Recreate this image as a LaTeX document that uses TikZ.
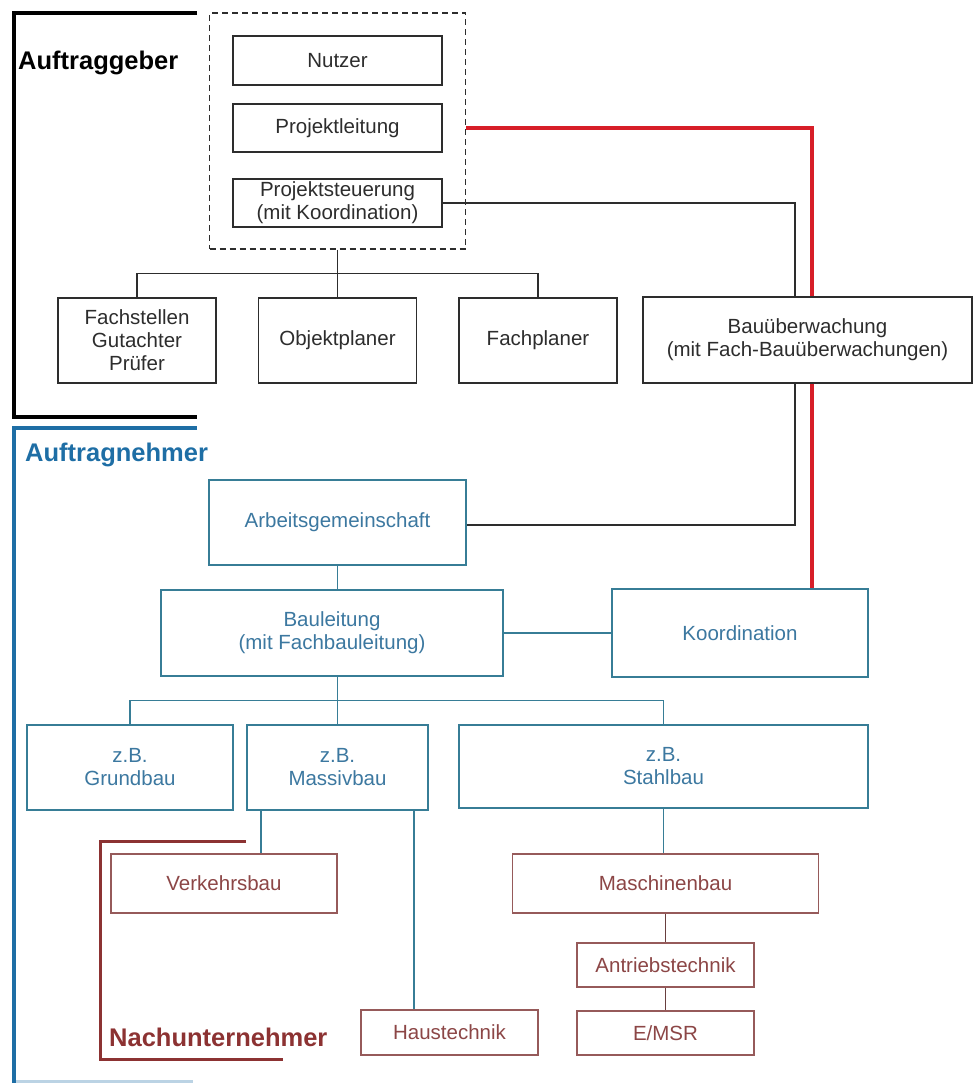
\documentclass[tikz,border=0pt]{standalone}
\usepackage{fontspec}
\setmainfont{Liberation Sans}
\usepackage{xcolor}
\usetikzlibrary{positioning,backgrounds}
\definecolor{agblack}{RGB}{45,45,45}
\definecolor{anblue}{RGB}{30,110,165}
\definecolor{anedge}{RGB}{55,125,150}
\definecolor{antext}{RGB}{60,120,160}
\definecolor{nuedge}{RGB}{150,90,90}
\definecolor{nutext}{RGB}{140,70,70}
\definecolor{nudark}{RGB}{140,50,50}
\definecolor{leadred}{RGB}{215,30,40}
\tikzset{
  agbox/.style  ={rectangle, draw=agblack, fill=white, line width=1.2pt, align=center, inner sep=0pt, text=agblack, font=\fontsize{20.5}{23}\selectfont},
  anbox/.style  ={agbox, draw=anedge, text=antext},
  nubox/.style  ={agbox, draw=nuedge, text=nutext},
  agframe/.style={rectangle, draw=agblack, dash pattern=on 6pt off 4pt, line width=1.2pt, inner sep=0pt},
  title/.style  ={inner sep=0pt, font=\fontsize{25.5}{28}\selectfont\bfseries},
  agconn/.style ={draw=agblack, line width=1.3pt},
  anconn/.style ={draw=anedge, line width=1.3pt},
  nuconn/.style ={draw=nuedge!70!black, line width=1.3pt},
  leadline/.style={draw=leadred, line width=4pt},
  bracket/.style={line width=4pt},
}

\begin{document}
\begin{tikzpicture}[x=1pt,y=-1pt]
\useasboundingbox (0,0) rectangle (973,1083);
% --- brackets ---
\draw[bracket, draw=black]  (197,13) -- (14,13) -- (14,417) -- (197,417);
\draw[bracket, draw=anblue] (197,428) -- (14,428) -- (14,1083);
\draw[bracket, draw=anblue!30] (16,1082) -- (193,1082);
\draw[bracket, draw=nudark, line width=3pt] (246,841) -- (100,841) -- (100,1059) -- (283,1059);
\node[title, anchor=base west, text=black]  (auftraggeber)    at (18,70)   {Auftraggeber};
\node[title, anchor=base west, text=anblue] (auftragnehmer)   at (25,461)  {Auftragnehmer};
\node[title, anchor=base west, text=nudark] (nachunternehmer) at (109,1046){Nachunternehmer};
% --- Auftraggeber ---
\node[agframe, minimum width=256, minimum height=236] (agfit) at (337.5,131) {};
\node[agbox, minimum width=209, minimum height=49] (nutzer) at (337.5,60.5) {Nutzer};
\node[agbox, minimum width=209, minimum height=48] (pleit)  at (337.5,128)  {Projektleitung};
\node[agbox, minimum width=209, minimum height=48] (psteu)  at (337.5,203)  {Projektsteuerung\\(mit Koordination)};
\node[agbox, minimum width=158, minimum height=85] (fachst) at (137,340.5)  {Fachstellen\\Gutachter\\Prüfer};
\node[agbox, minimum width=158, minimum height=85] (objpl)  at (337.5,340.5){Objektplaner};
\node[agbox, minimum width=158, minimum height=85] (fachpl) at (538,340.5)  {Fachplaner};
\node[agbox, minimum width=329, minimum height=86] (bauue)  at (807.5,340)  {Bauüberwachung\\(mit Fach-Bauüberwachungen)};
% --- Auftragnehmer ---
\node[anbox, minimum width=257, minimum height=85] (arge)   at (337.5,522.5){Arbeitsgemeinschaft};
\node[anbox, minimum width=342, minimum height=86] (baul)   at (332,633)    {Bauleitung\\(mit Fachbauleitung)};
\node[anbox, minimum width=256, minimum height=88] (koord)  at (740,633)    {Koordination};
\node[anbox, minimum width=206, minimum height=85] (grund)  at (130,767.5)  {z.B.\\Grundbau};
\node[anbox, minimum width=181, minimum height=85] (massiv) at (337.5,767.5){z.B.\\Massivbau};
\node[anbox, minimum width=409, minimum height=83] (stahl)  at (663.5,766.5){z.B.\\Stahlbau};
% --- Nachunternehmer ---
\node[nubox, minimum width=226, minimum height=59] (verk)   at (224,883.5)  {Verkehrsbau};
\node[nubox, minimum width=306, minimum height=59] (masch)  at (665.5,883.5){Maschinenbau};
\node[nubox, minimum width=177, minimum height=44] (antr)   at (665.5,965)  {Antriebstechnik};
\node[nubox, minimum width=177, minimum height=44] (emsr)   at (665.5,1033) {E/MSR};
\node[nubox, minimum width=177, minimum height=45] (haus)   at (449.5,1032.5){Haustechnik};
% --- connectors ---
\begin{scope}[on background layer]
\draw[leadline] (agfit.east |- pleit) -| ([xshift=72pt]koord.north);
\end{scope}
\draw[agconn] (agfit.south) -- (objpl.north);
\draw[agconn] (fachst.north) -- ++(0,-24) -| (fachpl.north);
\draw[agconn] (psteu.east) -| ([xshift=-12.5pt]bauue.north);
\draw[agconn] ([xshift=-12.5pt]bauue.south) |- ([yshift=-2.5pt]arge.east);
\draw[anconn] (arge.south) -- (arge.south |- baul.north);
\draw[anconn] (baul.east) -- (koord.west);
\draw[anconn] (arge.south |- baul.south) -- (massiv.north);
\draw[anconn] (grund.north) -- ++(0,-24) -| (stahl.north);
\draw[anconn] ([xshift=-76.5pt]massiv.south) -- ([xshift=-76.5pt]massiv.south |- verk.north);
\draw[anconn] ([xshift=76.5pt]massiv.south) -- ([xshift=76.5pt]massiv.south |- haus.north);
\draw[anconn] (stahl.south) -- (stahl.south |- masch.north);
\draw[nuconn] (masch.south) -- (antr.north);
\draw[nuconn] (antr.south) -- (emsr.north);
\end{tikzpicture}
\end{document}
